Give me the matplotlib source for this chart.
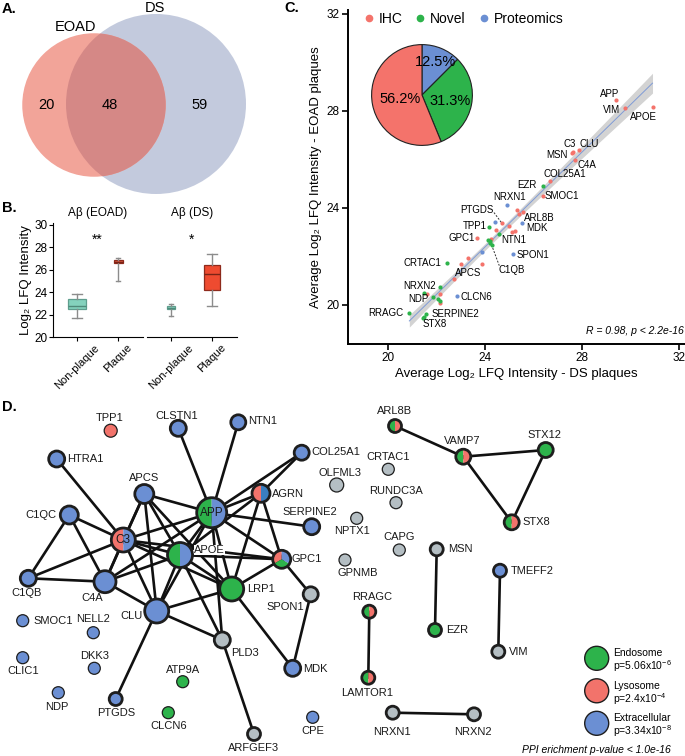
import matplotlib.pyplot as plt
import numpy as np
from matplotlib.patches import Circle, Wedge
from matplotlib.lines import Line2D

plt.rcParams['font.family'] = ['Liberation Sans', 'DejaVu Sans']

W, H = 685, 756

# ---- A: Venn counts
venn_names = ['EOAD', 'DS']
venn_only = [20, 59]
venn_both = 48

# ---- B: box stats (whislo, q1, med, q3, whishi)
box_groups = ['Aβ (EOAD)', 'Aβ (DS)']
box_cats = ['Non-plaque', 'Plaque']
box_stats = [
    [(21.7, 22.45, 22.8, 23.4, 23.8), (25.0, 26.6, 26.72, 26.85, 27.05)],
    [(21.9, 22.45, 22.55, 22.75, 22.9), (22.8, 24.2, 25.65, 26.4, 27.4)],
]
box_widths = [[0.42, 0.22], [0.21, 0.41]]
box_stars = ['**', '*']

# ---- C: scatter, DS (x) vs EOAD (y)
ds_x = [29.4, 29.77, 30.91, 27.64, 27.58, 27.89, 27.71, 26.68, 26.38, 25.31,
        25.55, 25.42, 24.69, 25.0, 24.45, 25.1, 25.24, 24.23, 23.68, 23.29,
        23.0, 23.89, 22.74, 21.6, 22.14, 22.16,
        26.4, 24.18, 24.56, 24.14, 24.2, 24.27, 24.22, 22.42, 22.14, 21.48,
        21.84, 22.08, 22.16, 20.88, 21.55, 21.48, 21.44,
        24.92, 25.53, 24.41, 23.89, 25.14, 22.83]
eoad_y = [28.44, 28.11, 28.15, 26.32, 26.25, 26.4, 25.98, 25.12, 24.48, 23.93,
          23.83, 23.75, 23.38, 23.26, 23.1, 23.0, 23.05, 22.71, 22.76, 21.94,
          21.67, 21.67, 21.06, 20.45, 20.44, 20.07,
          24.89, 23.21, 22.92, 22.66, 22.62, 22.48, 22.55, 21.72, 20.73, 20.51,
          20.32, 20.24, 20.18, 19.66, 19.62, 19.52, 19.48,
          24.13, 23.38, 23.42, 22.18, 22.12, 20.37]
point_cat = ['IHC'] * 26 + ['Novel'] * 17 + ['Proteomics'] * 6
cat_names = ['IHC', 'Novel', 'Proteomics']
cat_colors = {'IHC': '#F4736B', 'Novel': '#2DB34B', 'Proteomics': '#6B8FD3'}
pie_pct = [12.5, 31.3, 56.2]
pie_cats = ['Proteomics', 'Novel', 'IHC']

c_labels = [('APP', 29.15, 28.71), ('VIM', 29.22, 28.03), ('APOE', 30.53, 27.76),
            ('C3', 27.48, 26.64), ('CLU', 28.3, 26.65), ('MSN', 26.95, 26.2),
            ('C4A', 28.22, 25.77), ('COL25A1', 27.3, 25.41), ('EZR', 25.74, 24.96),
            ('SMOC1', 27.16, 24.5), ('NRXN1', 25.0, 24.45), ('PTGDS', 23.68, 23.93),
            ('ARL8B', 26.24, 23.6), ('TPP1', 23.56, 23.24), ('MDK', 26.13, 23.17),
            ('GPC1', 23.04, 22.76), ('NTN1', 25.17, 22.69), ('SPON1', 25.97, 22.05),
            ('CRTAC1', 21.43, 21.72), ('C1QB', 25.1, 21.45), ('APCS', 23.29, 21.33),
            ('NRXN2', 21.32, 20.8), ('NDP', 21.24, 20.26), ('CLCN6', 23.66, 20.34),
            ('RRAGC', 19.9, 19.66), ('SERPINE2', 22.8, 19.62), ('STX8', 21.91, 19.2)]
leaders = [((24.37, 23.81), (24.69, 23.38)), ((24.27, 22.48), (24.59, 21.62))]

# ---- D: network (pixel layout)
node_names = ['TPP1', 'CLSTN1', 'NTN1', 'COL25A1', 'HTRA1', 'APCS', 'AGRN', 'APP',
              'C1QC', 'SERPINE2', 'OLFML3', 'C3', 'APOE', 'GPC1', 'C1QB', 'C4A',
              'LRP1', 'SPON1', 'CLU', 'SMOC1', 'NELL2', 'PLD3', 'CLIC1', 'DKK3',
              'MDK', 'ATP9A', 'NDP', 'PTGDS', 'CLCN6', 'CPE', 'ARFGEF3',
              'ARL8B', 'VAMP7', 'STX12', 'CRTAC1', 'RUNDC3A', 'NPTX1', 'STX8',
              'CAPG', 'GPNMB', 'MSN', 'TMEFF2', 'RRAGC', 'EZR', 'VIM', 'LAMTOR1',
              'NRXN1', 'NRXN2']
node_x = [110.7, 178.3, 238.3, 301.7, 56.7, 144.3, 261, 211.7,
          69.3, 311.7, 336.7, 123.3, 180, 281.7, 28.3, 105,
          231.7, 310.7, 156.7, 22.7, 93.3, 222.3, 22.7, 94.3,
          292.7, 182.7, 58.3, 115.7, 168.3, 312.7, 254,
          395, 463.3, 545.7, 388.3, 396, 356.7, 511.7,
          399.3, 345, 436.7, 500, 369.3, 435, 498.3, 368.3,
          392.7, 474]
node_y = [430.7, 428.3, 422.3, 452.7, 459, 494, 493.3, 512.7,
          515, 526.7, 485, 540, 555, 559.3, 578.3, 581.7,
          589, 594.3, 611, 620.7, 632.7, 640, 657.7, 668.3,
          668.3, 681.7, 692.7, 699, 712.7, 717.3, 734,
          426, 456.7, 450, 469.3, 502.7, 518.3, 522.3,
          550, 560, 549.3, 570.7, 611.7, 630, 651.7, 677.7,
          712.7, 714.3]
node_r = [6.5, 8, 7.5, 7.5, 8, 9.5, 9, 15,
          9, 8, 7, 12, 12.5, 9, 8, 11,
          12, 7.5, 12, 6, 6, 8, 6, 6,
          8, 6, 6, 6.5, 6, 6, 6.5,
          6.5, 7.5, 7.5, 6, 6, 6, 7.5,
          6, 6, 6.5, 6.5, 6.5, 6.5, 6.5, 6.5,
          6.5, 6.5]
node_col = ['R', 'B', 'B', 'B', 'B', 'B', 'RD', 'GB',
            'B', 'B', 'N', 'RB', 'GB', 'RBG', 'B', 'B',
            'G', 'N', 'B', 'B', 'B', 'N', 'B', 'B',
            'B', 'G', 'B', 'B', 'G', 'B', 'N',
            'GR', 'GR', 'G', 'N', 'N', 'N', 'GR',
            'N', 'N', 'N', 'B', 'GR', 'G', 'N', 'GR',
            'N', 'N']
lab_x = [110, 177, 248, 311, 67, 144, 272, 211.7,
         57, 310, 340, 123.3, 194, 292, 27, 92,
         247, 285, 143, 33, 92.7, 245, 22.7, 94.3,
         303, 182.7, 57.3, 115.7, 168.3, 312.7, 254,
         395, 462.7, 544, 388.3, 396, 351.7, 522,
         399.3, 358, 448, 511, 371.7, 446, 509, 366.7,
         391.7, 472.7]
lab_y = [418, 416, 421, 452, 458.5, 478, 494, 512.7,
         515, 512, 473, 540, 550, 559, 593, 598,
         589, 607, 616, 621, 619, 653, 671, 656,
         669, 670, 707.5, 713.3, 726, 731.5, 748,
         411, 440.5, 435, 456.5, 490.5, 531.5, 522,
         536.7, 573.5, 548.5, 570.7, 596.5, 630, 651.7, 693.3,
         732, 732]
lab_ha = ['c', 'c', 'l', 'l', 'l', 'c', 'l', 'c',
          'r', 'c', 'c', 'c', 'l', 'l', 'c', 'c',
          'l', 'c', 'r', 'l', 'c', 'c', 'c', 'c',
          'l', 'c', 'c', 'c', 'c', 'c', 'c',
          'c', 'c', 'c', 'c', 'c', 'c', 'l',
          'c', 'c', 'l', 'l', 'c', 'l', 'l', 'c',
          'c', 'c']
edges = [('HTRA1', 'C3'), ('CLSTN1', 'APP'), ('NTN1', 'APP'), ('COL25A1', 'APP'),
         ('COL25A1', 'AGRN'), ('APCS', 'APP'), ('APCS', 'C3'), ('APCS', 'C4A'),
         ('APCS', 'CLU'), ('APCS', 'APOE'), ('APCS', 'LRP1'), ('C1QC', 'C3'),
         ('C1QC', 'C1QB'), ('C1QC', 'C4A'), ('C3', 'APP'), ('C3', 'APOE'),
         ('C3', 'C4A'), ('C3', 'CLU'), ('C3', 'C1QB'), ('C3', 'LRP1'), ('C3', 'GPC1'),
         ('APP', 'AGRN'), ('APP', 'SERPINE2'), ('APP', 'GPC1'), ('APP', 'APOE'),
         ('APP', 'LRP1'), ('APP', 'CLU'), ('APP', 'C4A'), ('APP', 'PLD3'),
         ('AGRN', 'GPC1'), ('AGRN', 'LRP1'), ('AGRN', 'APOE'), ('APOE', 'LRP1'),
         ('APOE', 'GPC1'), ('APOE', 'CLU'), ('APOE', 'C4A'), ('APOE', 'PLD3'),
         ('GPC1', 'LRP1'), ('GPC1', 'SPON1'), ('SPON1', 'MDK'), ('LRP1', 'CLU'),
         ('LRP1', 'MDK'), ('CLU', 'PLD3'), ('CLU', 'PTGDS'), ('CLU', 'C4A'),
         ('PLD3', 'ARFGEF3'), ('C1QB', 'C4A'),
         ('ARL8B', 'VAMP7'), ('VAMP7', 'STX12'), ('VAMP7', 'STX8'), ('STX12', 'STX8'),
         ('MSN', 'EZR'), ('TMEFF2', 'VIM'), ('RRAGC', 'LAMTOR1'), ('NRXN1', 'NRXN2')]
legend_terms = ['Endosome', 'Lysosome', 'Extracellular']
legend_p = [r'p=5.06x10$^{\mathregular{-6}}$', r'p=2.4x10$^{\mathregular{-4}}$',
            r'p=3.34x10$^{\mathregular{-8}}$']

GREEN, RED, BLUE, GRAY = '#2DB34B', '#F2736B', '#6B8FD3', '#B4BEC3'
node_parts = {
    'B': [(BLUE, 0, 360)], 'G': [(GREEN, 0, 360)], 'R': [(RED, 0, 360)],
    'N': [(GRAY, 0, 360)],
    'GB': [(GREEN, 90, 270), (BLUE, -90, 90)],
    'RB': [(RED, 90, 270), (BLUE, -90, 90)],
    'RD': [(RED, 90, 270), ('#3A7EC0', -90, 90)],
    'GR': [(GREEN, 90, 270), (RED, -90, 90)],
    'RBG': [(RED, 150, 270), (GREEN, 30, 150), (BLUE, -90, 30)],
}

fig = plt.figure(figsize=(W / 100, H / 100), dpi=100)

# overlay axes in pixel coordinates (panels A and D, letters)
ax0 = fig.add_axes([0, 0, 1, 1])
ax0.set_xlim(0, W)
ax0.set_ylim(H, 0)
ax0.axis('off')

for lab, (lx, ly) in zip(['A.', 'B.', 'C.', 'D.'], [(2, 9), (2, 208), (284, 8), (2, 407)]):
    ax0.text(lx, ly, lab, fontsize=10.5, fontweight='bold', ha='left', va='center')

# ---- A
k = 8.7
r_e = k * np.sqrt(venn_only[0] + venn_both)
r_d = k * np.sqrt(venn_only[1] + venn_both)
c_e, c_d = (94, 105), (156, 104)
ds_c = Circle(c_d, r_d, facecolor='#C3CADD', edgecolor='none', zorder=1)
ax0.add_patch(ds_c)
ax0.add_patch(Circle(c_e, r_e, facecolor='#F2A499', edgecolor='none', zorder=2))
ov = Circle(c_e, r_e, facecolor='#D58886', edgecolor='none', zorder=3)
ax0.add_patch(ov)
ov.set_clip_path(ds_c)
ax0.text(76, 27, venn_names[0], fontsize=10.5, ha='center', va='center')
ax0.text(155, 8, venn_names[1], fontsize=10.5, ha='center', va='center')
for val, px in zip([venn_only[0], venn_both, venn_only[1]], [46, 110, 200]):
    ax0.text(px, 105, str(val), fontsize=10.5, ha='center', va='center', zorder=5)

# ---- B
b_axes = [fig.add_axes([53 / W, 1 - 337 / H, 90 / W, 114 / H]),
          fig.add_axes([147 / W, 1 - 337 / H, 90 / W, 114 / H])]
fills = [['#84D2BD', '#D9553D'], ['#84D2BD', '#EE4B30']]
for gi, ax in enumerate(b_axes):
    stats = []
    for ci, s in enumerate(box_stats[gi]):
        stats.append(dict(whislo=s[0], q1=s[1], med=s[2], q3=s[3], whishi=s[4], fliers=[]))
    bp = ax.bxp(stats, positions=[1, 2], widths=box_widths[gi], patch_artist=True,
                showfliers=False, capwidths=[w * 0.55 for w in box_widths[gi]],
                boxprops=dict(linewidth=0.9),
                whiskerprops=dict(color='#8C8C8C', linewidth=1.0),
                capprops=dict(color='#8C8C8C', linewidth=1.0),
                medianprops=dict(linewidth=1.0))
    for ci, patch in enumerate(bp['boxes']):
        patch.set_facecolor(fills[gi][ci])
        patch.set_edgecolor('#5F9E8E' if ci == 0 else '#8E2A1C')
        bp['medians'][ci].set_color('#4F8A7A' if ci == 0 else '#7A2416')
    ax.set_xlim(0.413, 2.61)
    ax.set_ylim(20, 30.15)
    ax.set_xticks([1, 2])
    ax.set_xticklabels(box_cats, rotation=45, fontsize=8)
    ax.set_title(box_groups[gi], fontsize=8.5, pad=5)
    ax.text(1.5, 28.7, box_stars[gi], fontsize=10, ha='center', va='center')
    for sp in ['top', 'right']:
        ax.spines[sp].set_visible(False)
    ax.spines['bottom'].set_linewidth(0.8)
    ax.tick_params(axis='x', length=3, width=0.8, pad=1)
    ax.patch.set_alpha(0)
    if gi == 0:
        ax.set_yticks([20, 22, 24, 26, 28, 30])
        ax.tick_params(axis='y', labelsize=8.5, length=3, width=0.8, pad=1)
        ax.spines['left'].set_linewidth(0.8)
        ax.set_ylabel('Log₂ LFQ Intensity', fontsize=9.5, labelpad=2)
    else:
        ax.spines['left'].set_visible(False)
        ax.set_yticks([])

# ---- C
axc = fig.add_axes([348 / W, 1 - 344 / H, 337 / W, 334 / H])
axc.patch.set_alpha(0)
xs = np.array(ds_x)
ys = np.array(eoad_y)
slope, icpt = np.polyfit(xs, ys, 1)
xx = np.linspace(xs.min(), xs.max(), 100)
yy = icpt + slope * xx
res = ys - (icpt + slope * xs)
n = len(xs)
s = np.sqrt(np.sum(res ** 2) / (n - 2))
se = s * np.sqrt(1 / n + (xx - xs.mean()) ** 2 / np.sum((xs - xs.mean()) ** 2))
axc.fill_between(xx, yy - 2.01 * se, yy + 2.01 * se, color='#C8C8C8', alpha=0.8,
                 linewidth=0, zorder=1)
axc.plot(xx, yy, color='#7F9BD6', lw=0.7, zorder=2)
for cat in cat_names:
    idx = [i for i, c in enumerate(point_cat) if c == cat]
    axc.scatter(xs[idx], ys[idx], s=9, color=cat_colors[cat], linewidths=0, zorder=3)
for g, tx, ty in c_labels:
    axc.text(tx, ty, g, fontsize=7, ha='center', va='center', zorder=4)
for (x1, y1), (x2, y2) in leaders:
    axc.plot([x1, x2], [y1, y2], color='#333333', lw=0.7, ls=(0, (2, 1.5)), zorder=2)
axc.set_xlim(18.35, 32.25)
axc.set_ylim(18.39, 32.16)
axc.set_xticks([20, 24, 28, 32])
axc.set_yticks([20, 24, 28, 32])
axc.tick_params(labelsize=8.5, length=4, width=1.2, pad=2)
for sp in ['top', 'right']:
    axc.spines[sp].set_visible(False)
for sp in ['left', 'bottom']:
    axc.spines[sp].set_linewidth(1.4)
axc.set_xlabel('Average Log₂ LFQ Intensity - DS plaques', fontsize=9.5, labelpad=3)
axc.set_ylabel('Average Log₂ LFQ Intensity - EOAD plaques', fontsize=9.5, labelpad=3)
axc.text(0.995, 0.04, 'R = 0.98, p < 2.2e-16', transform=axc.transAxes, fontsize=7.5,
         style='italic', ha='right', va='center')
handles = [Line2D([], [], marker='o', ls='', markersize=4.5, color=cat_colors[c]) for c in cat_names]
axc.legend(handles, cat_names, loc='upper left', bbox_to_anchor=(352 / W, 1 - 4 / H),
           bbox_transform=fig.transFigure, ncol=3, frameon=False, fontsize=10,
           handletextpad=0.1, columnspacing=0.7, handlelength=1.2, borderpad=0.1)

# pie inset
axp = fig.add_axes([359 / W, 1 - 158 / H, 126 / W, 126 / H])
wedges, _ = axp.pie(pie_pct, colors=[cat_colors[c] for c in pie_cats], startangle=90,
                    counterclock=False, wedgeprops=dict(edgecolor='#222222', linewidth=0.8))
pct_dist = [0.71, 0.56, 0.45]
for w, p, d in zip(wedges, pie_pct, pct_dist):
    ang = np.deg2rad((w.theta1 + w.theta2) / 2)
    axp.text(d * np.cos(ang), d * np.sin(ang), f'{p}%', fontsize=10.5, ha='center', va='center')
axp.set_aspect('equal')

# ---- D network
pos = {nm: (x, y) for nm, x, y in zip(node_names, node_x, node_y)}
connected = set()
for a, b in edges:
    connected.update([a, b])
    ax0.plot([pos[a][0], pos[b][0]], [pos[a][1], pos[b][1]], color='#111111', lw=1.9,
             solid_capstyle='round', zorder=2)
for nm, x, y, r, col in zip(node_names, node_x, node_y, node_r, node_col):
    for c, t1, t2 in node_parts[col]:
        ax0.add_patch(Wedge((x, y), r, t1, t2, facecolor=c, edgecolor='none', zorder=3))
    lw = 2.0 if nm in connected else 0.9
    ax0.add_patch(Circle((x, y), r, facecolor='none', edgecolor='#1E1E1E', lw=lw, zorder=4))
ha_map = {'c': 'center', 'l': 'left', 'r': 'right'}
for nm, lx, ly, ha in zip(node_names, lab_x, lab_y, lab_ha):
    fs = 8.5 if nm in ('APP', 'C3') else 8
    box = dict(facecolor='white', edgecolor='none', pad=0.3) if nm == 'APOE' else None
    ax0.text(lx, ly, nm, fontsize=fs, ha=ha_map[ha], va='center', color='#1A1A1A',
             zorder=6, bbox=box)

for i, (term, p, col) in enumerate(zip(legend_terms, legend_p, [GREEN, RED, BLUE])):
    cy = 658.3 + i * 32.5
    ax0.add_patch(Circle((596.7, cy), 12, facecolor=col, edgecolor='#1E1E1E', lw=1.0, zorder=4))
    ax0.text(613, cy - 5, term, fontsize=7.5, ha='left', va='center')
    ax0.text(613, cy + 8, p, fontsize=7.5, ha='left', va='center')
ax0.text(671, 750, 'PPI erichment p-value < 1.0e-16', fontsize=7.5, style='italic',
         ha='right', va='center')

fig.savefig('out.png', dpi=100)
